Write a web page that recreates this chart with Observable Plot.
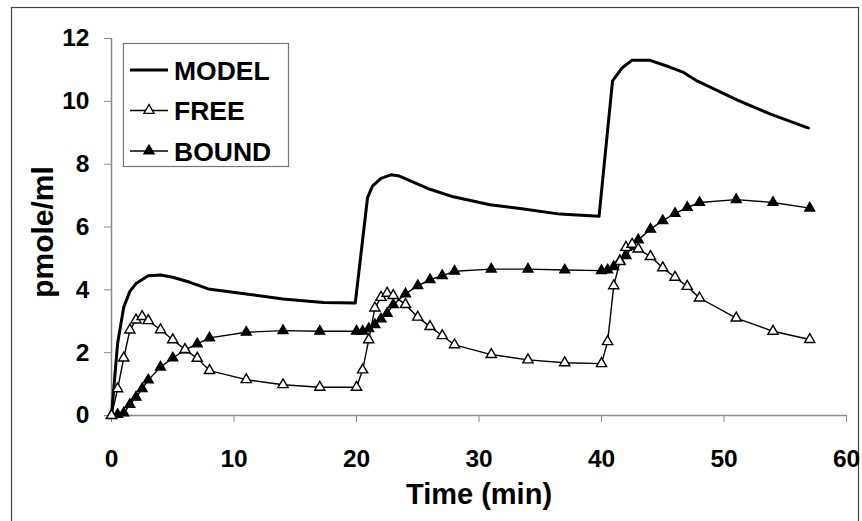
<!DOCTYPE html>
<html>
<head>
<meta charset="utf-8">
<script src="https://cdn.jsdelivr.net/npm/d3@7"></script>
<script src="https://cdn.jsdelivr.net/npm/@observablehq/plot@0.6"></script>
<style>
  html, body { margin: 0; padding: 0; background: white; }
</style>
</head>
<body>
<div id="chart"></div>
<script>
// ---- data ----
const seriesNames = ["MODEL", "FREE", "BOUND"];
const xTicks = [0, 10, 20, 30, 40, 50, 60];
const yTicks = [0, 2, 4, 6, 8, 10, 12];
const xLabel = "Time (min)";
const yLabel = "pmole/ml";

const modelTime  = [0, 0.5, 1, 1.5, 2, 3, 4, 5, 6.4, 7.9, 11, 14, 17.3, 19.9,
                    20.9, 21.3, 22, 22.8, 23.5, 24.4, 26, 27.9, 30.9, 33.5, 36.6, 39.8,
                    40.9, 41.7, 42.5, 43.9, 45.5, 46.7, 47.8, 51.1, 53.8, 56.9];
const modelValue = [0, 2.3, 3.45, 3.95, 4.2, 4.45, 4.47, 4.4, 4.24, 4.03, 3.87, 3.71, 3.6, 3.58,
                    6.93, 7.3, 7.55, 7.66, 7.62, 7.47, 7.2, 6.96, 6.71, 6.58, 6.41, 6.34,
                    10.65, 11.07, 11.31, 11.31, 11.1, 10.92, 10.65, 10.04, 9.59, 9.15];

const freeTime  = [0, 0.5, 1, 1.5, 2, 2.5, 3, 4, 5, 6, 7, 8, 11, 14, 17, 20,
                   20.5, 21, 21.5, 22, 22.5, 23, 24, 25, 26, 27, 28, 31, 34, 37, 40,
                   40.5, 41, 41.5, 42, 42.5, 43, 44, 45, 46, 47, 48, 51, 54, 57];
const freeValue = [0, 0.85, 1.83, 2.72, 3.04, 3.15, 3.02, 2.73, 2.41, 2.1, 1.82, 1.43, 1.14, 0.98, 0.9, 0.9,
                   1.45, 2.41, 3.42, 3.76, 3.89, 3.82, 3.53, 3.13, 2.83, 2.54, 2.25, 1.94, 1.77, 1.68, 1.65,
                   2.35, 4.13, 4.9, 5.35, 5.45, 5.3, 5.06, 4.7, 4.4, 4.11, 3.74, 3.1, 2.68, 2.42];

const boundTime  = [0, 0.5, 1, 1.5, 2, 2.5, 3, 4, 5, 6, 7, 8, 11, 14, 17, 20,
                    20.5, 21, 21.5, 22, 22.5, 23, 24, 25, 26, 27, 28, 31, 34, 37, 40,
                    40.5, 41, 41.5, 42, 42.5, 43, 44, 45, 46, 47, 48, 51, 54, 57];
const boundValue = [0, 0.03, 0.08, 0.35, 0.58, 0.85, 1.13, 1.54, 1.83, 2.09, 2.28, 2.47, 2.65, 2.7, 2.68, 2.68,
                    2.68, 2.76, 2.89, 3.07, 3.25, 3.53, 3.87, 4.13, 4.32, 4.45, 4.59, 4.66, 4.66, 4.63, 4.61,
                    4.63, 4.74, 4.93, 5.09, 5.37, 5.59, 5.93, 6.2, 6.43, 6.62, 6.78, 6.87, 6.78, 6.6];

// ---- tables built from the arrays ----
const model = modelTime.map((t, i) => ({t, v: modelValue[i]}));
const free  = freeTime.map((t, i) => ({t, v: freeValue[i]}));
const bound = boundTime.map((t, i) => ({t, v: boundValue[i]}));

const R = 3.8;
const FONT = "'Liberation Sans', Arial, Helvetica, sans-serif";
const axisGray = "#8a8a8a";

const plot = Plot.plot({
  width: 862,
  height: 521,
  marginLeft: 111,
  marginRight: 16,
  marginTop: 38,
  marginBottom: 106,
  style: {fontFamily: FONT, background: "white", color: "black", overflow: "visible"},
  x: {domain: [0, 60]},
  y: {domain: [0, 12]},
  marks: [
    Plot.ruleY([0], {stroke: axisGray, strokeWidth: 1.5}),
    Plot.ruleX([0], {stroke: axisGray, strokeWidth: 1.5}),
    Plot.axisX({ticks: xTicks, tickSize: 7, tickPadding: 27, stroke: axisGray, fill: "black",
                fontSize: 24.5, fontWeight: "bold", label: null}),
    Plot.axisY({ticks: yTicks, tickSize: 7, tickPadding: 15, stroke: axisGray, fill: "black",
                fontSize: 24.5, fontWeight: "bold", label: null}),
    Plot.line(model, {x: "t", y: "v", stroke: "black", strokeWidth: 3, strokeLinejoin: "round"}),
    Plot.line(free, {x: "t", y: "v", stroke: "black", strokeWidth: 1.4}),
    Plot.line(bound, {x: "t", y: "v", stroke: "black", strokeWidth: 1.4}),
    Plot.dot(bound, {x: "t", y: "v", symbol: "triangle", r: R, fill: "black", stroke: "black", strokeWidth: 1.2}),
    Plot.dot(free, {x: "t", y: "v", symbol: "triangle", r: R, fill: "white", stroke: "black", strokeWidth: 1.4}),
    Plot.text([xLabel], {text: d => d, frameAnchor: "bottom", dy: 79, fontSize: 29, fontWeight: "bold", lineAnchor: "middle"}),
    Plot.text([yLabel], {text: d => d, frameAnchor: "left", dx: -68, dy: 5, rotate: -90, textAnchor: "middle",
                         fontSize: 30, fontWeight: "bold", lineAnchor: "middle"})
  ]
});

// ---- page border and legend box ----
const svg = d3.select(plot);
svg.insert("rect", ":first-child")
  .attr("x", 11.5).attr("y", 7.5).attr("width", 847).attr("height", 600)
  .attr("fill", "none").attr("stroke", "#444").attr("stroke-width", 1.2);

const lg = svg.append("g");
lg.append("rect")
  .attr("x", 123.5).attr("y", 43.5).attr("width", 165).attr("height", 123)
  .attr("fill", "white").attr("stroke", "#777").attr("stroke-width", 1.2);

const rowY = [70, 110.5, 151];
const symSize = Math.PI * R * R;
const tri = d3.symbol(d3.symbolTriangle, symSize)();
seriesNames.forEach((name, i) => {
  const y = rowY[i];
  lg.append("line")
    .attr("x1", 130).attr("x2", 168).attr("y1", y).attr("y2", y)
    .attr("stroke", "black").attr("stroke-width", i === 0 ? 3 : 1.4);
  if (i > 0) {
    lg.append("path").attr("d", tri)
      .attr("transform", `translate(149,${y})`)
      .attr("fill", i === 1 ? "white" : "black")
      .attr("stroke", "black").attr("stroke-width", 1.3);
  }
  lg.append("text")
    .attr("x", 174).attr("y", y).attr("dy", "0.36em")
    .attr("text-anchor", "start")
    .attr("font-family", FONT).attr("font-size", 26.5).attr("font-weight", "bold")
    .attr("fill", "black")
    .text(name);
});

document.getElementById("chart").appendChild(plot);
</script>
</body>
</html>
